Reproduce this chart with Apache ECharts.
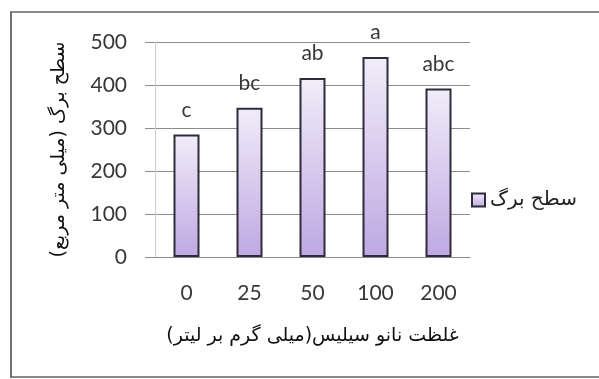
<!DOCTYPE html>
<html>
<head>
<meta charset="utf-8">
<script src="https://cdn.jsdelivr.net/npm/echarts@6/dist/echarts.min.js"></script>
<style>
html,body{margin:0;padding:0;background:#fff;}
#c{width:599px;height:379px;}
</style>
</head>
<body>
<div id="c"></div>
<script>
const categories = ['0', '25', '50', '100', '200'];
const leafArea = [285, 347, 416, 465, 392];
const letters = ['c', 'bc', 'ab', 'a', 'abc'];
const seriesName = 'سطح برگ';
const yTitle = 'سطح برگ (میلی متر مربع)';
const xTitle = 'غلظت نانو سیلیس(میلی گرم بر لیتر)';

const chart = echarts.init(document.getElementById('c'), null, {renderer: 'canvas'});
const numFont = 'Lato, "Open Sans", sans-serif';
const faFont = '"DejaVu Sans", sans-serif';
chart.setOption({
  animation: false,
  backgroundColor: '#ffffff',
  graphic: [
    {type: 'rect', shape: {x: 11, y: 12, width: 600, height: 365},
     style: {fill: 'none', stroke: '#8a8a8a', lineWidth: 2}, z: 0, silent: true},
    {type: 'rect', shape: {x: 10, y: 12, width: 2, height: 366},
     style: {fill: '#707070'}, z: 1, silent: true}
  ],
  grid: {left: 155, right: 129, top: 42, bottom: 122, containLabel: false},
  legend: {
    data: [{name: seriesName}],
    left: 466, top: 185,
    itemWidth: 13, itemHeight: 13, itemGap: 4,
    icon: 'rect',
    textStyle: {fontFamily: faFont, fontSize: 20, color: '#222', padding: [0, 0, 0, 0]},
    align: 'left'
  },
  xAxis: {
    type: 'category',
    data: categories,
    axisLine: {show: true, lineStyle: {color: '#8c8c8c', width: 1}},
    axisTick: {show: false},
    axisLabel: {fontFamily: numFont, fontSize: 21, color: '#383838', margin: 26},
    name: xTitle,
    nameLocation: 'middle',
    nameGap: 70,
    nameTextStyle: {fontFamily: faFont, fontSize: 19, color: '#111'}
  },
  yAxis: {
    type: 'value',
    min: 0, max: 500, interval: 100,
    axisLine: {show: true, lineStyle: {color: '#cfcfcf', width: 1}},
    axisTick: {show: true, length: 10, lineStyle: {color: '#8c8c8c'}},
    splitLine: {show: true, lineStyle: {color: '#8c8c8c', width: 1}},
    axisLabel: {fontFamily: numFont, fontSize: 21, color: '#383838', margin: 28},
    name: yTitle,
    nameLocation: 'middle',
    nameRotate: 90,
    nameGap: 86,
    nameTextStyle: {fontFamily: faFont, fontSize: 19, color: '#111'}
  },
  series: [{
    name: seriesName,
    type: 'bar',
    data: leafArea,
    barWidth: 26,
    itemStyle: {
      color: new echarts.graphic.LinearGradient(0, 0, 0, 1, [
        {offset: 0, color: '#f1edf9'},
        {offset: 1, color: '#bea8e2'}
      ]),
      borderColor: '#2e2c3a',
      borderWidth: 2
    },
    label: {
      show: true,
      position: 'top',
      distance: 14,
      formatter: p => letters[p.dataIndex],
      fontFamily: numFont,
      fontSize: 21,
      color: '#383838'
    }
  }]
});
</script>
</body>
</html>
